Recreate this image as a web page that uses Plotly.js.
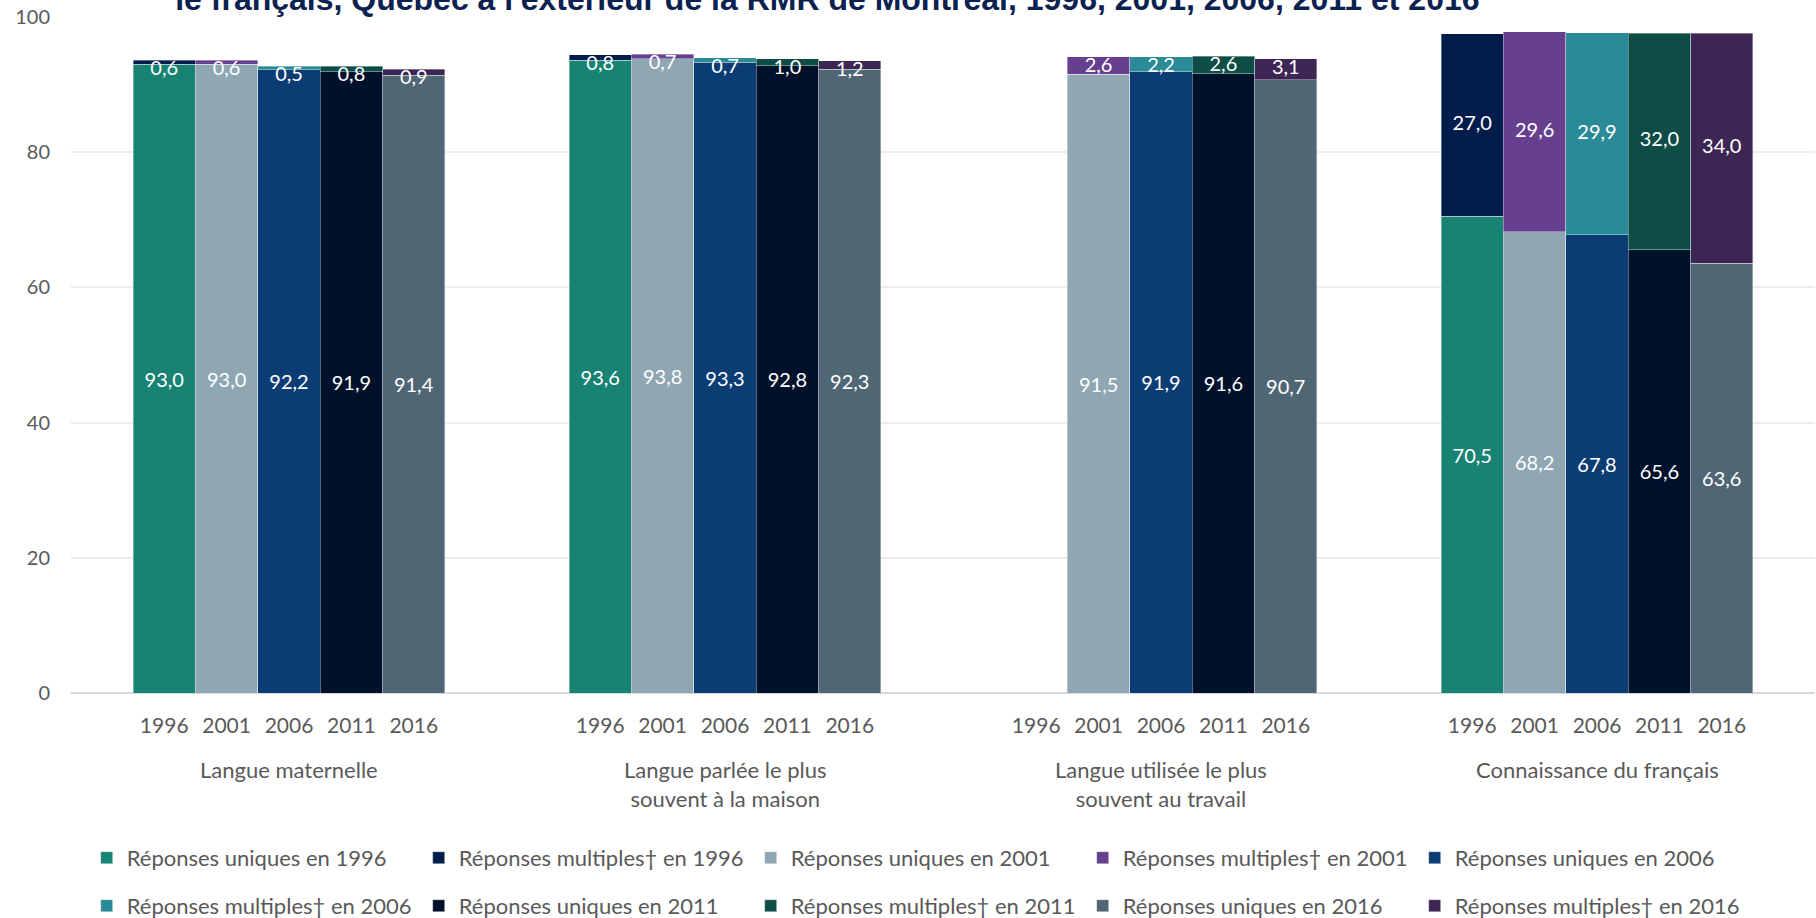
<!DOCTYPE html>
<html>
<head>
<meta charset="utf-8">
<script src="https://cdn.plot.ly/plotly-3.0.1.min.js"></script>
<style>html,body{margin:0;padding:0;background:#fff;}#chart{width:1816px;height:918px;}</style>
</head>
<body>
<div id="chart"></div>
<script>
// ---- data ----
const categories = ['Langue maternelle', 'Langue parlée le plus<br>souvent à la maison', 'Langue utilisée le plus<br>souvent au travail', 'Connaissance du français'];
const years = ['1996', '2001', '2006', '2011', '2016'];
const uniques1996 = [93.0, 93.6, null, 70.5];
const multiples1996 = [0.6, 0.8, null, 27.0];
const uniques2001 = [93.0, 93.8, 91.5, 68.2];
const multiples2001 = [0.6, 0.7, 2.6, 29.6];
const uniques2006 = [92.2, 93.3, 91.9, 67.8];
const multiples2006 = [0.5, 0.7, 2.2, 29.9];
const uniques2011 = [91.9, 92.8, 91.6, 65.6];
const multiples2011 = [0.8, 1.0, 2.6, 32.0];
const uniques2016 = [91.4, 92.3, 90.7, 63.6];
const multiples2016 = [0.9, 1.2, 3.1, 34.0];
const titleText = "le français, Québec à l'extérieur de la RMR de Montréal, 1996, 2001, 2006, 2011 et 2016";

// ---- styles ----
const uniqueColors = ['#188273', '#8fa6b3', '#0b3c74', '#01112b', '#4f6674'];
const multipleColors = ['#021d4c', '#673f8f', '#2a8a98', '#0e4d45', '#3d2654'];
const FONT = 'Lato, "Open Sans", sans-serif';
const GREY = '#595959';
const BW = 0.1431;

const uniquesByYear = [uniques1996, uniques2001, uniques2006, uniques2011, uniques2016];
const multiplesByYear = [multiples1996, multiples2001, multiples2006, multiples2011, multiples2016];

function xpos(yearIdx) {
  return categories.map((c, i) => i + (yearIdx - 2) * BW);
}

const traces = [];
const labX = [], labY = [], labT = [], labPos = [];
years.forEach((yr, j) => {
  const xs = xpos(j);
  traces.push({
    type: 'bar', x: xs, y: uniquesByYear[j], width: BW,
    name: 'Réponses uniques en ' + yr,
    marker: {color: uniqueColors[j], line: {color: 'rgba(255,255,255,0.45)', width: 0.8}},
    texttemplate: '%{y:.1f}', textposition: 'inside', insidetextanchor: 'middle',
    textfont: {family: FONT, size: 20, color: '#ffffff'}, constraintext: 'none',
    legend: (2 * j < 5) ? 'legend' : 'legend2',
    hoverinfo: 'skip'
  });
  traces.push({
    type: 'bar', x: xs, y: multiplesByYear[j], width: BW,
    name: 'Réponses multiples† en ' + yr,
    marker: {color: multipleColors[j], line: {color: 'rgba(255,255,255,0.45)', width: 0.8}},
    legend: (2 * j + 1 < 5) ? 'legend' : 'legend2',
    hoverinfo: 'skip'
  });
  multiplesByYear[j].forEach((m, i) => {
    if (m === null) return;
    const u = uniquesByYear[j][i];
    labX.push(xs[i]);
    labT.push(m.toFixed(1).replace('.', ','));
    if (m < 5) { labY.push(u + m); labPos.push('bottom center'); }
    else { labY.push(u + m / 2); labPos.push('middle center'); }
  });
});
traces.push({
  type: 'scatter', mode: 'text', x: labX, y: labY, text: labT, textposition: labPos,
  textfont: {family: FONT, size: 20, color: '#ffffff'}, showlegend: false, hoverinfo: 'skip', cliponaxis: false
});

const tickvals = [], ticktext = [];
categories.forEach((c, i) => years.forEach((yr, j) => { tickvals.push(i + (j - 2) * BW); ticktext.push(yr); }));

const annotations = categories.map((c, i) => ({
  xref: 'x', yref: 'paper', x: i, y: -0.09, yanchor: 'top', xanchor: 'center',
  text: c, showarrow: false, font: {family: FONT, size: 22, color: GREY}
}));

const legendCommon = {
  orientation: 'h', xanchor: 'left', x: 0.009, yanchor: 'middle',
  entrywidth: 287, entrywidthmode: 'pixels', traceorder: 'normal',
  font: {family: FONT, size: 22, color: GREY}, bgcolor: 'rgba(0,0,0,0)'
};

const layout = {
  width: 1816, height: 918,
  margin: {l: 71, r: 1, t: 17, b: 225, pad: 0, autoexpand: false},
  paper_bgcolor: '#ffffff', plot_bgcolor: '#ffffff',
  barmode: 'stack', bargap: 0,
  separators: ', ',
  showlegend: true,
  title: {text: '<b>' + titleText + '</b>', xref: 'container', yref: 'container', x: 0.4556, xanchor: 'center', y: 0.9891, yanchor: 'bottom',
    automargin: false,
    font: {family: '"Liberation Sans", Arial, sans-serif', size: 32, color: '#0b2150'}},
  xaxis: {range: [-0.5, 3.5], tickvals: tickvals, ticktext: ticktext, showgrid: false, zeroline: false, showline: false,
    ticks: '', ticklabelstandoff: 18, tickfont: {family: FONT, size: 21, color: GREY}, fixedrange: true, automargin: false},
  yaxis: {range: [0, 100], dtick: 20, tick0: 0, showgrid: true, gridcolor: '#ececec', gridwidth: 2,
    zeroline: true, zerolinecolor: '#d9d9d9', zerolinewidth: 2, showline: false, ticks: '',
    ticklabelstandoff: 20, tickfont: {family: FONT, size: 20, color: GREY}, fixedrange: true, automargin: false},
  legend: Object.assign({}, legendCommon, {y: -0.244}),
  legend2: Object.assign({}, legendCommon, {y: -0.315}),
  annotations: annotations
};

Plotly.newPlot('chart', traces, layout, {displayModeBar: false, staticPlot: true});
</script>
</body>
</html>
